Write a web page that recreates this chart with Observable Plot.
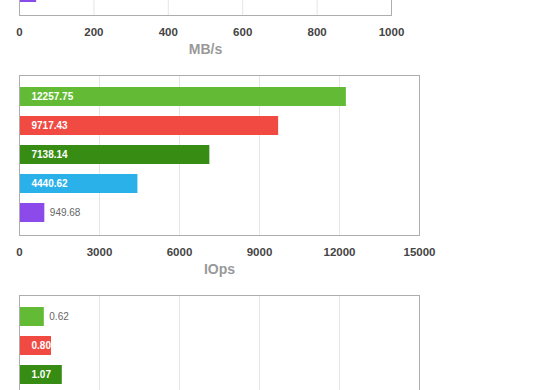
<!DOCTYPE html>
<html>
<head>
<meta charset="utf-8">
<script src="https://cdn.jsdelivr.net/npm/d3@7"></script>
<script src="https://cdn.jsdelivr.net/npm/@observablehq/plot@0.6"></script>
<style>
  html, body { margin: 0; padding: 0; background: #fff; }
  body { width: 560px; height: 390px; overflow: hidden; position: relative; }
  .chart { position: absolute; left: 0; }
</style>
</head>
<body>
<div id="c1" class="chart" style="top:-155px"></div>
<div id="c2" class="chart" style="top:65px"></div>
<div id="c3" class="chart" style="top:285px"></div>
<script>
// Series (bar order top to bottom) and their colours
const seriesNames  = ["A", "B", "C", "D", "E"];
const seriesColors = ["#63bb35", "#f04a42", "#378c14", "#2bb1ea", "#8d4aea"];

// Chart 1: throughput (only the last bar is visible in the picture; its label is off-view)
const mbpsValues = [null, null, null, null, 46];
const mbpsTicks  = [0, 200, 400, 600, 800, 1000];
const mbpsLabel  = "MB/s";

// Chart 2: IOps
const iopsValues = [12257.75, 9717.43, 7138.14, 4440.62, 949.68];
const iopsTicks  = [0, 3000, 6000, 9000, 12000, 15000];
const iopsLabel  = "IOps";

// Chart 3: latency (only the first three bars are visible; its axis is off-view)
const latValues = [0.62, 0.80, 1.07, null, null];
const latTicks  = [0, 2, 4, 6, 8, 10];
const latLabel  = "";

const FONT = "'Liberation Sans', Arial, Helvetica, sans-serif";

function makeChart(values, ticks, label, marginRight, opts = {}) {
  const {showValues = true, showAxis = true} = opts;
  const width = 560, marginLeft = 19;
  const plotW = width - marginLeft - marginRight;
  const xmax = ticks[ticks.length - 1];
  const data = seriesNames
    .map((name, i) => ({name, color: seriesColors[i], value: values[i]}))
    .filter(d => d.value != null);
  const fits = d => d.value / xmax * plotW >= 30;
  const inside = showValues ? data.filter(fits) : [];
  const outside = showValues ? data.filter(d => !fits(d)) : [];
  const fmt = d => d.value.toFixed(2);
  const svg = Plot.plot({
    width, height: 220,
    marginTop: 10, marginBottom: 50, marginLeft, marginRight,
    style: {fontFamily: FONT, background: "transparent"},
    x: {domain: [0, xmax], axis: null},
    y: {domain: seriesNames, padding: 1 / 3, axis: null},
    color: {type: "identity"},
    marks: [
      Plot.frame({fill: "white", stroke: "none"}),
      Plot.gridX(ticks.slice(1, -1), {stroke: "#e6e6e6", strokeOpacity: 1}),
      Plot.barX(data, {x: "value", y: "name", fill: "color"}),
      Plot.text(inside, {x: 0, y: "name", text: fmt, textAnchor: "start", dx: 12,
        fill: "white", fontWeight: "bold", fontSize: 10}),
      Plot.text(outside, {x: "value", y: "name", text: fmt, textAnchor: "start", dx: 5,
        fill: "#666", fontSize: 10}),
      showAxis ? Plot.axisX(ticks, {tickSize: 0, tickPadding: 12, fontSize: 11.5, fill: "#444",
        fontWeight: "bold", label: null, tickFormat: d => String(d)}) : null,
      label ? Plot.text([label], {frameAnchor: "bottom", dy: 38, fontSize: 14,
        fontWeight: "bold", fill: "#999"}) : null,
      Plot.frame({stroke: "#adadad"})
    ]
  });
  const bg = svg.querySelector('[aria-label="frame"] rect');
  if (bg) bg.style.filter = "drop-shadow(0px 6px 4px rgba(0,0,0,0.07))";
  return svg;
}

document.getElementById("c1").append(makeChart(mbpsValues, mbpsTicks, mbpsLabel, 169, {showValues: false}));
document.getElementById("c2").append(makeChart(iopsValues, iopsTicks, iopsLabel, 141));
document.getElementById("c3").append(makeChart(latValues, latTicks, latLabel, 141, {showAxis: false}));
</script>
</body>
</html>
